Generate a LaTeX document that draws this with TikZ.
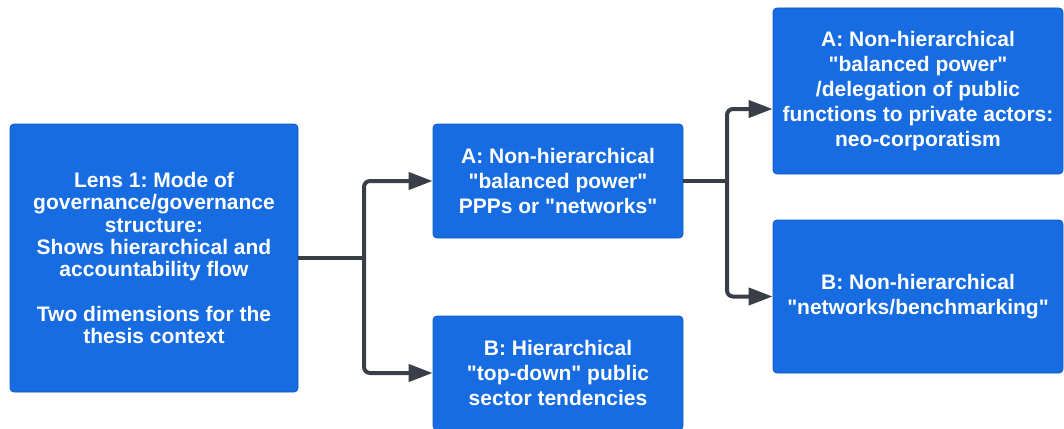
\documentclass[tikz,border=0pt]{standalone}
\usepackage{fontspec}
\setmainfont{Liberation Sans}[Ligatures=TeXOff]
\frenchspacing
\usetikzlibrary{arrows.meta}
\definecolor{boxblue}{RGB}{22,108,224}
\definecolor{boxedge}{RGB}{16,88,190}
\definecolor{linegray}{RGB}{58,62,70}
\begin{document}
\begin{tikzpicture}[x=1pt,y=-1pt,
  box/.style={draw=boxedge, line width=0.8pt, fill=boxblue, rounded corners=4pt,
    text=white, align=center, inner sep=0pt,
    font=\bfseries\fontsize{21}{25}\selectfont\frenchspacing},
  conn/.style={draw=linegray, line width=4pt, rounded corners=6pt},
  arr/.style={conn, -{Triangle[length=24pt,width=17pt]}}]
\useasboundingbox (0,0) rectangle (1064,428);
\clip (0,0) rectangle (1064,428);

% boxes
\node[box, minimum width=288pt, minimum height=268pt,
      font=\bfseries\fontsize{21}{22.4}\selectfont\frenchspacing] (lens) at (154,258)
  {Lens 1: Mode of\\governance/governance\\structure:\\Shows hierarchical and\\accountability flow\\[22pt]Two dimensions for the\\thesis context};
\node[box, minimum width=250pt, minimum height=114pt] (amid) at (558,181)
  {A: Non-hierarchical\\"balanced power"\\PPPs or "networks"};
\node[box, minimum width=250pt, minimum height=114pt] (bmid) at (558,373)
  {B: Hierarchical\\"top-down" public\\sector tendencies};
\node[box, minimum width=290pt, minimum height=166pt] (aright) at (918,91)
  {A: Non-hierarchical\\"balanced power"\\/delegation of public\\functions to private actors:\\neo-corporatism};
\node[box, minimum width=290pt, minimum height=153pt] (bright) at (918,296.5)
  {B: Non-hierarchical\\"networks/benchmarking"};

% branching connectors
\coordinate (j1) at (364,258);
\coordinate (j2) at (727,181);
\draw[conn] (lens.east) -- (j1);
\draw[arr] (j1) |- (amid.west);
\draw[arr] (j1) |- (bmid.west);
\draw[conn] (amid.east) -- (j2);
\draw[arr] (j2) |- ([yshift=-18pt]aright.west);
\draw[arr] (j2) |- (bright.west);
\end{tikzpicture}
\end{document}
